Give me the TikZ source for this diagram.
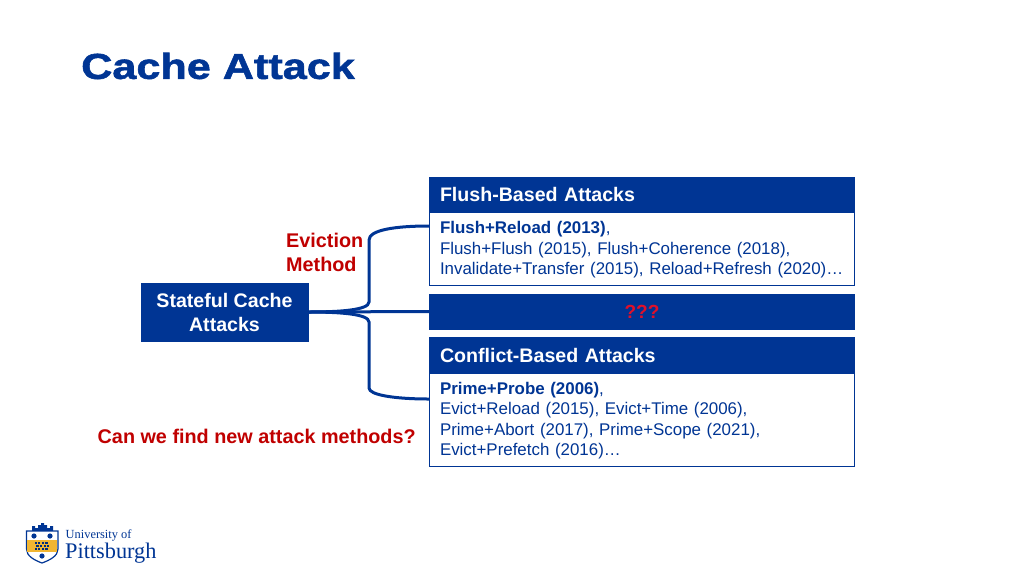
\documentclass[tikz,border=0pt]{standalone}
\usepackage{fontspec}
\setmainfont{Liberation Sans}
\newfontfamily\titlefont[FakeStretch=1.2,BoldFeatures={FakeBold=1.6}]{Liberation Sans}
\newfontfamily\logofont{Liberation Serif}
\definecolor{pittblue}{HTML}{003594}
\definecolor{alertred}{HTML}{C00000}
\definecolor{brightred}{HTML}{E0102A}
\definecolor{pittgold}{HTML}{F2B632}
\newcommand{\bodystrut}{\rule{0pt}{14.5pt}}
\tikzset{
  headbox/.style={draw=pittblue, fill=pittblue, text=white, font=\fontsize{19.6}{24}\selectfont\bfseries, minimum width=425pt, text width=404pt, inner sep=0pt, align=left},
  bodybox/.style={draw=pittblue, fill=white, text=pittblue, font=\fontsize{16.9}{20.5}\selectfont, minimum width=425pt, text width=404pt, inner sep=0pt, align=left},
  redlabel/.style={text=alertred, font=\fontsize{19.8}{24}\selectfont\bfseries, inner sep=0pt},
  branch/.style={draw=pittblue, line width=3pt},
}
\begin{document}
\begin{tikzpicture}[x=1pt, y=-1pt]
  \useasboundingbox (0,0) rectangle (1024,576);
  \node[anchor=west, text=pittblue, inner sep=0pt, font=\fontsize{36}{42}\selectfont\titlefont\bfseries] (title) at (81,66) {Cache Attack};

  \node[headbox, minimum height=35pt] (flushhead) at (642,194.5) {Flush-Based Attacks};
  \node[bodybox, minimum height=73pt] (flushbody) at (642,248.5) {\bodystrut\textbf{Flush+Reload (2013)},\\Flush+Flush (2015), Flush+Coherence (2018),\\Invalidate+Transfer (2015), Reload+Refresh (2020)…};
  \node[headbox, minimum height=35pt] (unknown) at (642,311.5) {};
  \node[redlabel, text=brightred, font=\fontsize{19}{24}\selectfont\bfseries] (qmarks) at (642,312) {???};
  \node[headbox, minimum height=36pt] (conflicthead) at (642,355) {Conflict-Based Attacks};
  \node[bodybox, minimum height=93pt] (conflictbody) at (642,419.5) {\bodystrut\textbf{Prime+Probe (2006)},\\Evict+Reload (2015), Evict+Time (2006),\\Prime+Abort (2017), Prime+Scope (2021),\\Evict+Prefetch (2016)…};

  \node[draw=pittblue, fill=pittblue, text=white, minimum width=167pt, minimum height=58pt, inner sep=0pt, align=center, font=\fontsize{19.6}{24}\selectfont\bfseries] (stateful) at (224.5,312) {Stateful Cache\\Attacks};
  \node[redlabel, anchor=west, align=left] (eviction) at (286,252.5) {Eviction\\Method};
  \node[redlabel, anchor=west] (question) at (97.5,436.5) {Can we find new attack methods?};

  \coordinate (flushin) at (429,226);
  \coordinate (conflictin) at (429,399);

  \draw[branch] (stateful.east) -- (unknown.west);
  \draw[branch] (stateful.east) .. controls (340,312) and (369,310) .. (369,302) -- (369,240) .. controls (369,230) and (395,226) .. (flushin);
  \draw[branch] (stateful.east) .. controls (340,312) and (369,314) .. (369,322) -- (369,388) .. controls (369,395) and (395,399) .. (conflictin);

  % logo
  \fill[pittblue] (32,531) -- (32,526) -- (35,526) -- (35,528) -- (38,528) -- (38,525) -- (41,525) -- (41,523) -- (44,523) -- (44,525) -- (47,525) -- (47,528) -- (50,528) -- (50,526) -- (53,526) -- (53,531) -- cycle;
  \path[draw=pittblue, line width=1.2pt, fill=white] (26.5,531) -- (58,531) -- (58,549) .. controls (58,556) and (50,560) .. (42,563) .. controls (34,560) and (26.5,556) .. (26.5,549) -- cycle;
  \fill[pittgold] (27.2,540) rectangle (57.3,552);
  \foreach \col in {0,...,3}
    \foreach \row in {0,1,2}
      \fill[pittblue!85!black] ({34.5+\col*3.6+mod(\row,2)*1.8},{541.5+\row*3.2}) rectangle +(2.2,2.2);
  \foreach \dotx/\doty in {34/536, 50/536, 42/556}
    \fill[pittblue] (\dotx,\doty) circle (2.6);
  \node[anchor=west, inner sep=0pt, text=pittblue, font=\fontsize{12.4}{14}\selectfont\logofont] (univ) at (65.5,535) {University of};
  \node[anchor=west, inner sep=0pt, text=pittblue, font=\fontsize{22.3}{26}\selectfont\logofont] (pitt) at (65,553.5) {Pittsburgh};
\end{tikzpicture}
\end{document}
